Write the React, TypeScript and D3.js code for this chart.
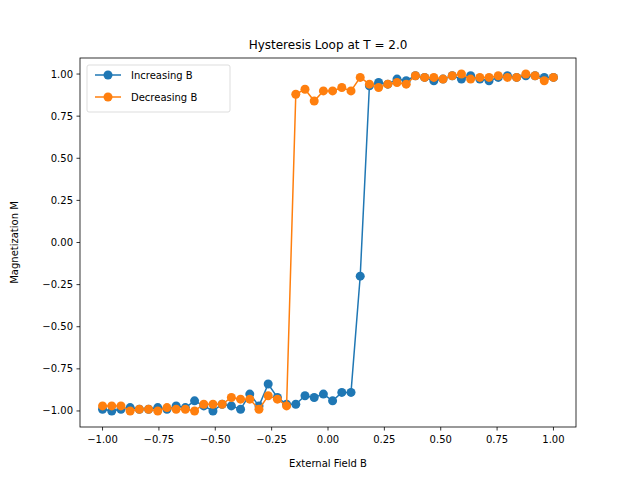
import React from "react";
import * as d3 from "d3";

const xValues = d3.range(50).map(i => -1 + i * 2 / 49);
const increasingB = [-0.99,-1.00,-0.99,-0.98,-0.99,-0.99,-0.98,-0.99,-0.97,-0.98,-0.94,-0.97,-1.00,-0.96,-0.97,-0.99,-0.90,-0.97,-0.84,-0.92,-0.96,-0.96,-0.91,-0.92,-0.90,-0.94,-0.89,-0.89,-0.20,0.93,0.95,0.94,0.97,0.96,0.99,0.98,0.96,0.97,0.99,0.97,0.99,0.97,0.96,0.98,0.99,0.98,0.99,0.99,0.98,0.98];
const decreasingB = [-0.97,-0.97,-0.97,-1.00,-0.99,-0.99,-1.00,-0.98,-0.99,-0.99,-1.00,-0.96,-0.96,-0.96,-0.92,-0.93,-0.93,-0.99,-0.91,-0.93,-0.97,0.88,0.91,0.84,0.90,0.90,0.92,0.90,0.98,0.94,0.92,0.94,0.95,0.94,0.99,0.98,0.98,0.97,0.99,1.00,0.97,0.98,0.98,0.99,0.98,0.98,1.00,0.99,0.96,0.98];
const xTicks = [-1, -0.75, -0.5, -0.25, 0, 0.25, 0.5, 0.75, 1];
const yTicks = [-1, -0.75, -0.5, -0.25, 0, 0.25, 0.5, 0.75, 1];
const series = [
  { name: "Increasing B", values: increasingB, color: "#1f77b4" },
  { name: "Decreasing B", values: decreasingB, color: "#ff7f0e" },
];

export default function App() {
  const L = 80, R = 576, T = 58, B = 427;
  const x = d3.scaleLinear().domain([-1.1, 1.1]).range([L, R]);
  const y = d3.scaleLinear().domain([-1.0952, 1.0952]).range([B, T]);
  const font = "DejaVu Sans";
  return (
    <svg width={640} height={480} style={{ position: "absolute", left: 0, top: 0 }} fontFamily={font}>
      <rect width={640} height={480} fill="white" />
      {series.map(s => {
        const line = d3.line<number>().x((_, i) => x(xValues[i])).y(v => y(v));
        return (
          <g key={s.name}>
            <path d={line(s.values)!} fill="none" stroke={s.color} strokeWidth={1.5} />
            {s.values.map((v, i) => <circle key={i} cx={x(xValues[i])} cy={y(v)} r={4.5} fill={s.color} />)}
          </g>
        );
      })}
      <rect x={L} y={T} width={R - L} height={B - T} fill="none" stroke="black" strokeWidth={0.8} />
      {xTicks.map(t => (
        <g key={t}>
          <line x1={x(t)} x2={x(t)} y1={B} y2={B + 3.5} stroke="black" strokeWidth={0.8} />
          <text x={x(t)} y={B + 16} fontSize={10} textAnchor="middle">{t.toFixed(2).replace("-", "−")}</text>
        </g>
      ))}
      {yTicks.map(t => (
        <g key={t}>
          <line x1={L - 3.5} x2={L} y1={y(t)} y2={y(t)} stroke="black" strokeWidth={0.8} />
          <text x={L - 7} y={y(t) + 3.5} fontSize={10} textAnchor="end">{t.toFixed(2).replace("-", "−")}</text>
        </g>
      ))}
      <text x={(L + R) / 2} y={467} fontSize={10} textAnchor="middle">External Field B</text>
      <text transform={`translate(18,${(T + B) / 2}) rotate(-90)`} fontSize={10} textAnchor="middle">Magnetization M</text>
      <text x={(L + R) / 2} y={49} fontSize={12} textAnchor="middle">Hysteresis Loop at T = 2.0</text>
      <rect x={87} y={65} width={143} height={47} rx={2} fill="white" stroke="#cccccc" strokeWidth={0.8} opacity={0.8} />
      {series.map((s, i) => (
        <g key={s.name} transform={`translate(0,${75 + i * 22})`}>
          <line x1={95} x2={121} y1={0} y2={0} stroke={s.color} strokeWidth={1.5} />
          <circle cx={108} cy={0} r={4.5} fill={s.color} />
          <text x={131} y={3.5} fontSize={10}>{s.name}</text>
        </g>
      ))}
    </svg>
  );
}
